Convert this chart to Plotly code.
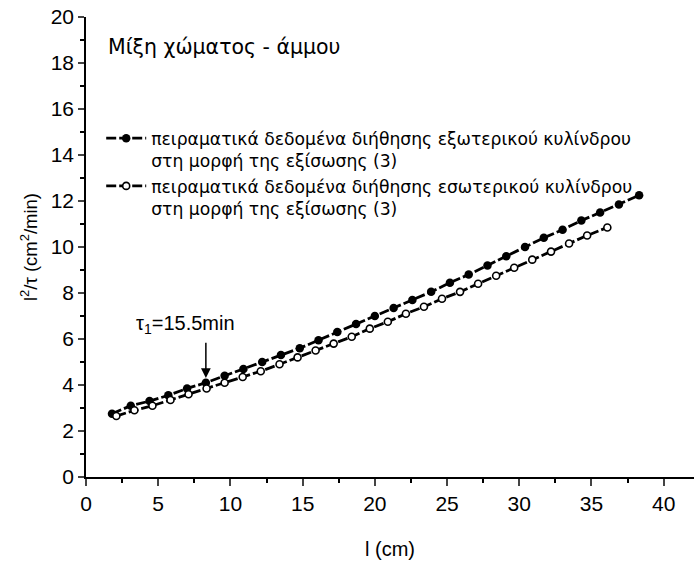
import plotly.graph_objects as go

# Filled series: outer cylinder
x_outer = [1.8, 3.1, 4.4, 5.7, 7.0, 8.3, 9.6, 10.9, 12.2, 13.5, 14.8, 16.1, 17.4, 18.7, 20.0,
           21.3, 22.6, 23.9, 25.2, 26.5, 27.8, 29.1, 30.4, 31.7, 33.0, 34.3, 35.6, 36.9, 38.3]
y_outer = [2.75, 3.1, 3.3, 3.55, 3.85, 4.1, 4.4, 4.7, 5.0, 5.3, 5.6, 5.95, 6.3, 6.65, 7.0,
           7.35, 7.7, 8.05, 8.45, 8.8, 9.2, 9.6, 10.0, 10.4, 10.75, 11.15, 11.5, 11.85, 12.25]

# Open series: inner cylinder
x_inner = [2.1, 3.35, 4.6, 5.85, 7.1, 8.35, 9.6, 10.85, 12.1, 13.4, 14.65, 15.9, 17.15, 18.4,
           19.65, 20.9, 22.15, 23.4, 24.65, 25.9, 27.15, 28.4, 29.65, 30.9, 32.2, 33.45, 34.7, 36.1]
y_inner = [2.65, 2.9, 3.1, 3.35, 3.6, 3.85, 4.1, 4.35, 4.6, 4.9, 5.2, 5.5, 5.8, 6.1,
           6.45, 6.75, 7.1, 7.4, 7.75, 8.05, 8.4, 8.75, 9.1, 9.45, 9.8, 10.15, 10.5, 10.85]

name_outer = "πειραματικά δεδομένα διήθησης εξωτερικού κυλίνδρου<br>στη μορφή της εξίσωσης (3)"
name_inner = "πειραματικά δεδομένα διήθησης εσωτερικού κυλίνδρου<br>στη μορφή της εξίσωσης (3)"

x_ticks = [0, 5, 10, 15, 20, 25, 30, 35, 40]
y_ticks = [0, 2, 4, 6, 8, 10, 12, 14, 16, 18, 20]

FONT = "Liberation Sans, Arial, sans-serif"
FONT2 = "DejaVu Sans, Verdana, sans-serif"

fig = go.Figure()
fig.add_trace(go.Scatter(
    x=x_outer, y=y_outer, mode="lines+markers", name=name_outer,
    line=dict(color="black", width=2.8, dash="10px,3px"),
    marker=dict(symbol="circle", size=8.5, color="black"),
))
fig.add_trace(go.Scatter(
    x=x_inner, y=y_inner, mode="lines+markers", name=name_inner,
    line=dict(color="black", width=2.8, dash="10px,3px"),
    marker=dict(symbol="circle", size=7, color="white", line=dict(color="black", width=1.6)),
))

fig.update_layout(
    width=694, height=573,
    margin=dict(l=86, r=0, t=17, b=96),
    paper_bgcolor="white", plot_bgcolor="white",
    font=dict(family=FONT, color="black", size=20),
    showlegend=True,
    legend=dict(
        x=0.025, y=0.775, xanchor="left", yanchor="top",
        font=dict(family=FONT2, size=17.2, color="black"),
        bgcolor="rgba(0,0,0,0)", valign="top", tracegroupgap=2,
        itemwidth=40,
    ),
    xaxis=dict(
        range=[0, 42.1], tickvals=x_ticks, ticks="outside", ticklen=7, tickwidth=1.5,
        showline=True, linecolor="black", linewidth=1.5, showgrid=False, zeroline=False,
        minor=dict(dtick=2.5, ticks="outside", ticklen=4, tickwidth=1.5, tickcolor="black", showgrid=False),
        title=dict(text="l (cm)", font=dict(size=20), standoff=28),
        tickfont=dict(size=21),
    ),
    yaxis=dict(
        range=[0, 20], tickvals=y_ticks, ticks="outside", ticklen=6, tickwidth=1.5,
        showline=True, linecolor="black", linewidth=1.5, showgrid=False, zeroline=False,
        minor=dict(dtick=1, ticks="outside", ticklen=4, tickwidth=1.5, tickcolor="black", showgrid=False),
        title=dict(text="l<sup>2</sup>/τ (cm<sup>2</sup>/min)", font=dict(size=18.5), standoff=8),
        tickfont=dict(size=21),
    ),
)

fig.add_annotation(
    x=1.4, y=18.7, xref="x", yref="y", text="Μίξη χώματος - άμμου",
    showarrow=False, xanchor="left", yanchor="middle",
    font=dict(family=FONT2, size=20.5, color="black"),
)
fig.add_annotation(
    x=8.3, y=4.3, xref="x", yref="y", ax=8.3, ay=5.9, axref="x", ayref="y",
    text="", showarrow=True, arrowhead=2, arrowsize=1.3, arrowwidth=1.5, arrowcolor="black",
)
fig.add_annotation(
    x=3.3, y=6.0, xref="x", yref="y", text="τ<sub>1</sub>=15.5min",
    showarrow=False, xanchor="left", yanchor="bottom",
    font=dict(family=FONT, size=20, color="black"),
)

fig.write_html("out.html")
